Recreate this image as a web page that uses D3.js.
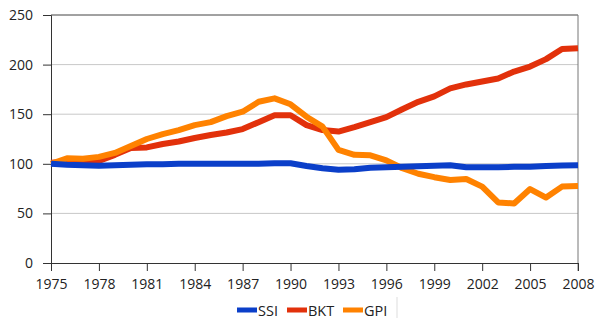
<!DOCTYPE html>
<html><head><meta charset="utf-8">
<script src="https://cdn.jsdelivr.net/npm/d3@7"></script>
<style>body{margin:0;background:#fff}svg{display:block}text{font-family:"Open Sans",sans-serif;fill:#222}</style>
</head><body><svg id="c" width="600" height="336"></svg>
<script>
const years = d3.range(1975, 2009);
const ssi = [100,99,98.5,98,98.5,99,99.5,99.5,100,100,100,100,100,100,100.5,100.5,97.8,95.5,94,94.5,96,96.5,97,97.5,98,98.5,96.5,96.5,96.5,97,97,97.7,98.4,98.6];
const bkt = [101,102,102,103,109,116,116.5,120,122.5,126,129,131.5,135,142,149,149,139,134,132.5,137,142,147,155,162.5,168,176,180,183,186,193,198,205.5,215.7,216.5];
const gpi = [100,105.5,105,107,111,118,125,130,134,139,142,148,152.5,162.5,166,160,147.5,137.5,114,109,108.5,103.5,95.5,90,86.5,83.7,84.7,77,61,60,74.5,66,77,77.5];
const yTicks = [0,50,100,150,200,250];
const xTicks = d3.range(1975, 2009, 3);
const seriesNames = ["SSI","BKT","GPI"];
const colors = {SSI:"#0b3fc9", BKT:"#e2310b", GPI:"#ff8200"};

const svg = d3.select("#c");
const L=51, R=578, T=15, B=263;
const x = d3.scaleLinear().domain([1975,2008]).range([L,R]);
const y = d3.scaleLinear().domain([0,250]).range([B,T]);

// gridlines
svg.append("g").selectAll("line").data(yTicks.filter(v=>v>0 && v<250)).join("line")
  .attr("x1",L).attr("x2",R).attr("y1",d=>y(d)).attr("y2",d=>y(d))
  .attr("stroke","#c8c8c8").attr("stroke-width",1);
// top line
svg.append("line").attr("x1",L).attr("x2",R).attr("y1",y(250)).attr("y2",y(250)).attr("stroke","#444");
// right border
svg.append("line").attr("x1",R).attr("x2",R).attr("y1",T).attr("y2",B+8).attr("stroke","#777");

// y axis
const ya = svg.append("g").attr("transform",`translate(${L},0)`)
  .call(d3.axisLeft(y).tickValues(yTicks).tickSize(8).tickPadding(10));
ya.select(".domain").attr("stroke","#333");
ya.selectAll(".tick line").attr("stroke","#333");
ya.selectAll("text").style("font-size","14px").attr("fill","#222");

// x axis
const xa = svg.append("g").attr("transform",`translate(0,${B})`)
  .call(d3.axisBottom(x).tickValues(xTicks).tickFormat(d3.format("d")).tickSize(8).tickSizeOuter(0).tickPadding(8));
xa.select(".domain").attr("stroke","#333");
xa.selectAll(".tick line").attr("stroke","#333");
xa.selectAll("text").style("font-size","14px").attr("fill","#222");

const data = {SSI:ssi, BKT:bkt, GPI:gpi};
const line = d3.line().x((d,i)=>x(years[i])).y(d=>y(d));
["BKT","GPI","SSI"].forEach(k=>{
  svg.append("path").datum(data[k]).attr("d",line)
    .attr("fill","none").attr("stroke",colors[k]).attr("stroke-width",6)
    .attr("stroke-linejoin","round");
});

// legend
const lg = svg.append("g");
const lx = [237,287,343];
seriesNames.forEach((k,i)=>{
  lg.append("rect").attr("x",lx[i]).attr("y",307.5).attr("width",20).attr("height",5).attr("fill",colors[k]);
  lg.append("text").attr("x",lx[i]+21).attr("y",315.5).style("font-size","14.5px").text(k);
});
lg.append("line").attr("x1",397).attr("x2",397).attr("y1",297).attr("y2",318).attr("stroke","#ddd");
</script></body></html>
